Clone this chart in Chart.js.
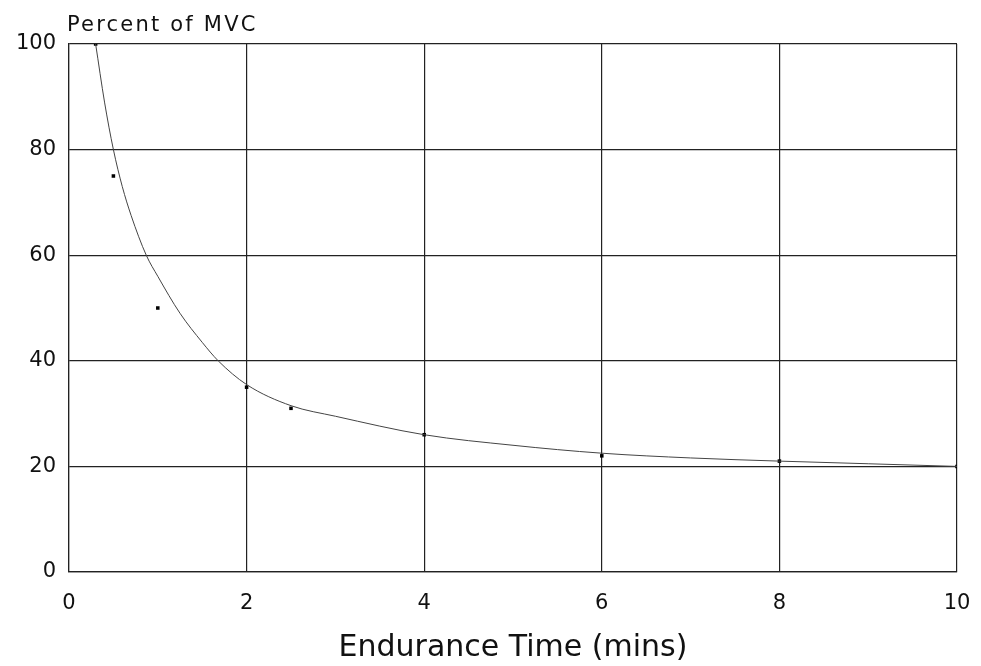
<!DOCTYPE html>
<html>
<head>
<meta charset="utf-8">
<script src="https://cdn.jsdelivr.net/npm/chart.js@4/dist/chart.umd.min.js"></script>
<style>
  html, body { margin: 0; padding: 0; background: #fff; }
  #wrap { width: 981px; height: 666px; }
</style>
</head>
<body>
<div id="wrap"><canvas id="mvcChart"></canvas></div>
<script>
// measured points
const timeMins = [0.3, 0.5, 1, 2, 2.5, 4, 6, 8, 10];
const percentMvc = [100, 75, 50, 35, 31, 26, 22, 21, 20];

// fitted curve
const curveTime = [0.3, 0.4, 0.5, 0.6, 0.7, 0.87, 1, 1.25, 1.5, 1.68, 2, 2.5, 3, 4, 5, 6, 7, 8, 9, 10];
const curvePercent = [100, 89, 80, 73, 67.5, 60, 56, 49, 43.5, 40, 35.5, 31.5, 29.5, 26, 24, 22.5, 21.6, 21, 20.5, 20];

const xTicks = [0, 2, 4, 6, 8, 10];
const yTicks = [0, 20, 40, 60, 80, 100];

const yAxisLabel = 'Percent of MVC';
const xAxisLabel = 'Endurance Time (mins)';

const fontFamily = '"DejaVu Sans", Arial, sans-serif';

// label above the y axis, drawn by hand
const topLabel = {
    id: 'topLabel',
    afterDraw(chart) {
        const ctx = chart.ctx;
        ctx.save();
        ctx.font = '21px ' + fontFamily;
        ctx.letterSpacing = '2.2px';
        ctx.fillStyle = '#111';
        ctx.textBaseline = 'alphabetic';
        ctx.textAlign = 'left';
        ctx.fillText(yAxisLabel, 67, 31);
        ctx.restore();
    }
};

new Chart(document.getElementById('mvcChart'), {
    type: 'scatter',
    data: {
        datasets: [{
            label: 'curve',
            data: curveTime.map((t, i) => ({ x: t, y: curvePercent[i] })),
            showLine: true,
            borderColor: '#444',
            borderWidth: 1,
            pointRadius: 0,
            cubicInterpolationMode: 'monotone'
        }, {
            label: 'measured',
            data: timeMins.map((t, i) => ({ x: t, y: percentMvc[i] })),
            pointStyle: 'rect',
            pointRadius: 2.5,
            backgroundColor: '#000',
            borderColor: '#000',
            borderWidth: 0
        }]
    },
    options: {
        responsive: true,
        maintainAspectRatio: false,
        animation: false,
        layout: { padding: { top: 44, right: 24, left: 0, bottom: 0 } },
        plugins: {
            legend: { display: false },
            tooltip: { enabled: false }
        },
        scales: {
            x: {
                type: 'linear',
                min: 0,
                max: 10,
                afterBuildTicks: s => { s.ticks = xTicks.map(v => ({ value: v })); },
                afterFit: s => {
                    s.height = 94;
                    s.paddingLeft = 0;
                    s.paddingRight = 0;
                },
                grid: { color: '#222', lineWidth: 1.2, drawTicks: false },
                border: { color: '#222', width: 1.2 },
                ticks: { color: '#111', padding: 19, font: { family: fontFamily, size: 21 } },
                title: {
                    display: true,
                    text: xAxisLabel,
                    color: '#111',
                    padding: { top: 0, bottom: 0 },
                    font: { family: fontFamily, size: 30 }
                }
            },
            y: {
                min: 0,
                max: 100,
                afterBuildTicks: s => { s.ticks = yTicks.map(v => ({ value: v })); },
                afterFit: s => { s.width = 69; },
                grid: { color: '#222', lineWidth: 1.2, drawTicks: false },
                border: { color: '#222', width: 1.2 },
                ticks: { color: '#111', padding: 13, font: { family: fontFamily, size: 21 } }
            }
        }
    },
    plugins: [topLabel]
});
</script>
</body>
</html>
